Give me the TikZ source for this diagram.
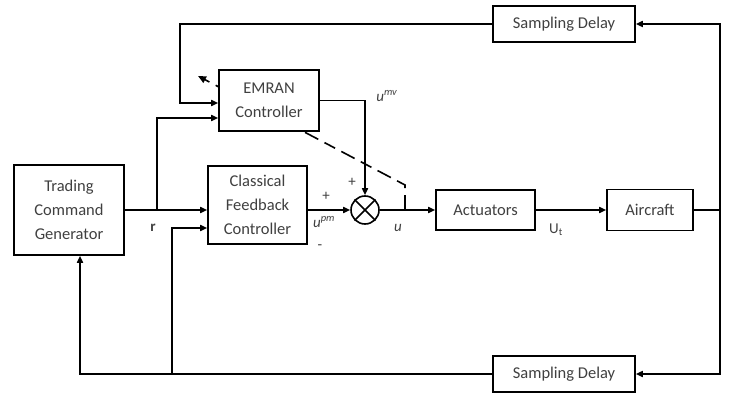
\documentclass[tikz,border=0pt]{standalone}
\usepackage{fontspec}
\setmainfont{Carlito}
\usetikzlibrary{arrows.meta}
\begin{document}
\begin{tikzpicture}[x=1pt,y=-1pt,
  blk/.style={draw, line width=1.6pt, fill=white, inner sep=0pt, align=center,
    font=\fontsize{16.5}{24}\selectfont, text=black!75},
  conn/.style={line width=1.6pt, -{Triangle[length=7pt,width=6pt]}},
  wire/.style={line width=1.6pt},
  lbl/.style={inner sep=0pt, font=\fontsize{15}{17}\selectfont, text=black!75}]
\useasboundingbox (0,0) rectangle (735,398);

% dashed adaptation arrow (drawn under the boxes)
\coordinate (dend) at (405,210);
\coordinate (dk) at (405,185);
\coordinate (dtip) at (198,76);
\draw[line width=1.6pt, dash pattern=on 15pt off 7pt on 12pt off 7pt,
  -{Triangle[length=8pt,width=7pt]}] (dend) -- (dk) -- (dtip);

% blocks
\node[blk, minimum width=110pt, minimum height=90pt] (tcg) at (69,210) {Trading\\Command\\Generator};
\node[blk, minimum width=99pt, minimum height=78pt] (cf) at (257.5,205) {Classical\\Feedback\\Controller};
\node[blk, minimum width=100pt, minimum height=61pt] (emran) at (269,100.5) {EMRAN\\Controller};
\node[blk, minimum width=99pt, minimum height=40pt] (act) at (485.5,210) {Actuators};
\node[blk, minimum width=86pt, minimum height=41pt] (air) at (650,210) {Aircraft};
\node[blk, minimum width=142pt, minimum height=36pt] (sdt) at (564,24) {Sampling Delay};
\node[blk, minimum width=142pt, minimum height=36pt] (sdb) at (564,374) {Sampling Delay};
\node[draw, circle, line width=1.6pt, minimum size=28pt, inner sep=0pt, fill=white] (sum) at (365,210) {};
\draw[line width=1.6pt] (sum.north west) -- (sum.south east) (sum.north east) -- (sum.south west);

% helper coordinates
\coordinate (rx) at (720,210);
\coordinate (tfx) at (180,103);
\coordinate (y118) at (0,118);
\coordinate (y228) at (0,228);
\coordinate (rb) at (157,210);
\coordinate (bl) at (80,374);
\coordinate (bb) at (172,374);

% connectors
\draw[wire] (air.east) -- (rx);
\draw[conn] (rx) |- (sdt.east);
\draw[conn] (rx) |- (sdb.east);
\draw[conn] (sdt.west) -| (tfx) -- (emran.west |- tfx);
\draw[conn] (tcg.east) -- (cf.west |- tcg.east);
\draw[conn] (rb) |- (emran.west |- y118);
\draw[conn] (sdb.west) -- (bl) -- (bl |- tcg.south);
\draw[conn] (bb) |- (cf.west |- y228);
\draw[conn] (emran.east) -| (sum.north);
\draw[conn] (cf.east |- sum) -- (sum.west);
\draw[conn] (sum.east) -- (act.west);
\draw[conn] (act.east) -- (air.west);

% labels
\node[lbl] (lr) at (153,228) {\textbf{r}};
\node[lbl] (lp1) at (326,196) {+};
\node[lbl] (lp2) at (352,182) {+};
\node[lbl] (lufb) at (324,222) {\textit{u}\textsuperscript{\textit{pm}}};
\node[lbl] (lmin) at (320,247) {-};
\node[lbl] (lunn) at (387,96) {\textit{u}\textsuperscript{\textit{mv}}};
\node[lbl] (lu) at (398,228) {\textit{u}};
\node[lbl] (lut) at (556,230) {U\textsubscript{t}};
\end{tikzpicture}
\end{document}
